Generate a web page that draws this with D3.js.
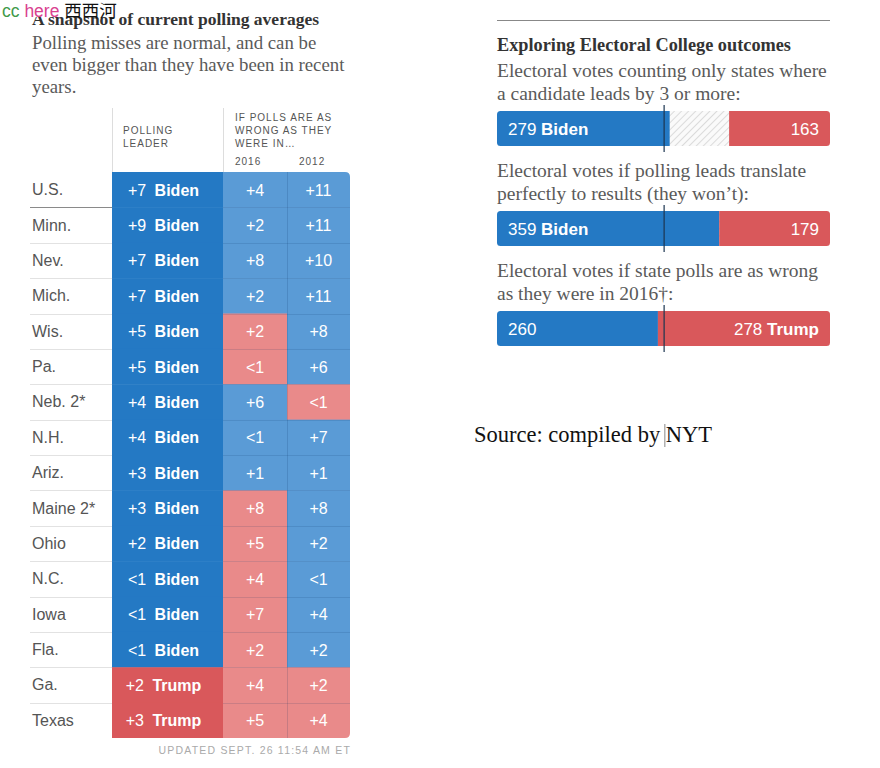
<!DOCTYPE html>
<html><head><meta charset="utf-8">
<script src="https://cdn.jsdelivr.net/npm/d3@7"></script>
<style>
html,body{margin:0;padding:0;background:#fff;}
svg{display:block;}
</style></head>
<body>
<svg id="c" width="880" height="768"></svg>
<script>
// ---------- DATA ----------
const states = ["U.S.","Minn.","Nev.","Mich.","Wis.","Pa.","Neb. 2*","N.H.","Ariz.","Maine 2*","Ohio","N.C.","Iowa","Fla.","Ga.","Texas"];
const leaderMargin = ["+7","+9","+7","+7","+5","+5","+4","+4","+3","+3","+2","<1","<1","<1","+2","+3"];
const leaderParty  = ["Biden","Biden","Biden","Biden","Biden","Biden","Biden","Biden","Biden","Biden","Biden","Biden","Biden","Biden","Trump","Trump"];
const miss2016     = ["+4","+2","+8","+2","+2","<1","+6","<1","+1","+8","+5","+4","+7","+2","+4","+5"];
const miss2016Party= ["D","D","D","D","R","R","D","D","D","R","R","R","R","R","R","R"];
const miss2012     = ["+11","+11","+10","+11","+8","+6","<1","+7","+1","+8","+2","<1","+4","+2","+2","+4"];
const miss2012Party= ["D","D","D","D","D","D","R","D","D","D","D","D","D","D","R","R"];
const headerLeader = ["POLLING","LEADER"];
const headerMiss   = ["IF POLLS ARE AS","WRONG AS THEY","WERE IN…"];
const missYears    = ["2016","2012"];

const totalEV = 538;
const scenarioText = [
  ["Electoral votes counting only states where","a candidate leads by 3 or more:"],
  ["Electoral votes if polling leads translate","perfectly to results (they won’t):"],
  ["Electoral votes if state polls are as wrong","as they were in 2016†:"]
];
const scenarioBiden = [279, 359, 260];
const scenarioTrump = [163, 179, 278];
const scenarioWinner = ["Biden","Biden","Trump"];

// ---------- STYLE ----------
const C = {
  bidenDark:"#2479c4", trumpDark:"#d9585b",
  bidenLight:"#5a9bd6", trumpLight:"#e98a8a",
  serifGray:"#5a5a5a", title:"#333"
};
const serif = "'Liberation Serif','Times New Roman',serif";
const sans = "'Liberation Sans',Arial,sans-serif";

const svg = d3.select("#c");
const defs = svg.append("defs");

// ---------- LEFT: TABLE ----------
svg.append("text").attr("x",32).attr("y",25).attr("font-family",serif).attr("font-weight","bold")
  .attr("font-size",17.5).attr("fill",C.title).text("A snapshot of current polling averages");
const sub = ["Polling misses are normal, and can be","even bigger than they have been in recent","years."];
svg.append("g").selectAll("text").data(sub).join("text")
  .attr("x",32).attr("y",(d,i)=>49+i*22.2).attr("font-family",serif).attr("font-size",18.8)
  .attr("fill",C.serifGray).text(d=>d);

const y = d3.scaleBand().domain(states).range([172, 738]);
const colEdges = d3.scaleOrdinal().domain(["label","leader","y2016","y2012","end"]).range([32,112,223,287,350]);
const x0 = colEdges("leader"), x1 = colEdges("y2016"), x2 = colEdges("y2012"), x3 = colEdges("end");

// header
const hdr = svg.append("g").attr("font-family",sans).attr("font-size",10).attr("letter-spacing",1).attr("fill","#555");
hdr.append("line").attr("x1",x0+0.5).attr("x2",x0+0.5).attr("y1",108).attr("y2",172).attr("stroke","#ddd");
hdr.append("line").attr("x1",x1+0.5).attr("x2",x1+0.5).attr("y1",108).attr("y2",172).attr("stroke","#ddd");
hdr.selectAll(".hl").data(headerLeader).join("text").attr("x",x0+11).attr("y",(d,i)=>134+i*13).text(d=>d);
hdr.selectAll(".hm").data(headerMiss).join("text").attr("x",x1+12).attr("y",(d,i)=>121+i*13).text(d=>d);
hdr.selectAll(".hy").data(missYears).join("text").attr("x",(d,i)=>[x1,x2][i]+12).attr("y",165).text(d=>d);

// state label separators
const rows = states.map((s,i)=>({s,i}));
svg.append("g").selectAll("line").data(rows.slice(0,-1)).join("line")
  .attr("x1",30).attr("x2",x0).attr("y1",d=>Math.round(y(d.s)+y.bandwidth())+0.5).attr("y2",d=>Math.round(y(d.s)+y.bandwidth())+0.5)
  .attr("stroke",d=>d.i===0?"#8a8a8a":"#e2e2e2");
svg.append("g").selectAll("text").data(rows).join("text")
  .attr("x",32).attr("y",d=>y(d.s)+y.bandwidth()/2+5.5).attr("font-family",sans).attr("font-size",16)
  .attr("fill","#555").text(d=>d.s);

// clip for rounded right corners
defs.append("clipPath").attr("id","tclip").append("path")
  .attr("d",(()=>{const r=5,t=y.range()[0],b=y.range()[1];
    return `M${x0},${t}H${x3-r}Q${x3},${t} ${x3},${t+r}V${b-r}Q${x3},${b} ${x3-r},${b}H${x0}Z`;})());
const cells = svg.append("g").attr("clip-path","url(#tclip)");
// leader column
cells.selectAll(".lead").data(rows).join("rect")
  .attr("x",x0).attr("width",x1-x0).attr("y",d=>y(d.s)).attr("height",y.bandwidth()+0.5)
  .attr("fill",d=>leaderParty[d.i]==="Biden"?C.bidenDark:C.trumpDark);
// miss columns
const missCols=[{x:x1,w:x2-x1,v:miss2016,p:miss2016Party},{x:x2,w:x3-x2,v:miss2012,p:miss2012Party}];
missCols.forEach(col=>{
  cells.append("g").selectAll("rect").data(rows).join("rect")
    .attr("x",col.x).attr("width",col.w).attr("y",d=>y(d.s)).attr("height",y.bandwidth()+0.5)
    .attr("fill",d=>col.p[d.i]==="D"?C.bidenLight:C.trumpLight);
  cells.append("g").selectAll("line").data(rows.slice(1)).join("line")
    .attr("x1",col.x).attr("x2",col.x+col.w).attr("y1",d=>Math.round(y(d.s))+0.5).attr("y2",d=>Math.round(y(d.s))+0.5)
    .attr("stroke","rgba(0,40,90,0.13)");
  cells.append("g").selectAll("text").data(rows).join("text")
    .attr("x",col.x+col.w/2).attr("y",d=>y(d.s)+y.bandwidth()/2+6).attr("text-anchor","middle")
    .attr("font-family",sans).attr("font-size",16).attr("fill","#fff").text(d=>col.v[d.i]);
});
cells.append("line").attr("x1",x2+0.5).attr("x2",x2+0.5).attr("y1",y.range()[0]).attr("y2",y.range()[1]).attr("stroke","rgba(0,40,90,0.15)");
// leader text
const lt = cells.append("g").selectAll("text").data(rows).join("text")
  .attr("x",(x0+x1)/2-4).attr("y",d=>y(d.s)+y.bandwidth()/2+6).attr("text-anchor","middle")
  .attr("font-family",sans).attr("font-size",16).attr("fill","#fff");
lt.append("tspan").text(d=>leaderMargin[d.i]+" ");
lt.append("tspan").attr("dx",4).attr("font-weight","bold").text(d=>leaderParty[d.i]);

svg.append("text").attr("x",351).attr("y",754).attr("text-anchor","end").attr("font-family",sans)
  .attr("font-size",10.5).attr("letter-spacing",1.2).attr("fill","#aaa").text("UPDATED SEPT. 26 11:54 AM ET");

// ---------- RIGHT: ELECTORAL BARS ----------
const ev = d3.scaleLinear().domain([0,totalEV]).range([497,830]);
svg.append("line").attr("x1",497).attr("x2",830).attr("y1",20.5).attr("y2",20.5).attr("stroke","#888");
svg.append("text").attr("x",497).attr("y",51).attr("font-family",serif).attr("font-weight","bold")
  .attr("font-size",18.3).attr("fill",C.title).text("Exploring Electoral College outcomes");

const pat = defs.append("pattern").attr("id","hatch").attr("patternUnits","userSpaceOnUse")
  .attr("width",5).attr("height",5).attr("patternTransform","rotate(45)");
pat.append("rect").attr("width",5).attr("height",5).attr("fill","#fafafa");
pat.append("line").attr("x1",0).attr("x2",0).attr("y1",0).attr("y2",5).attr("stroke","#d4d4d4").attr("stroke-width",1.6);

const textTop = [77, 177, 277];
const barTop = [111, 211, 311];
const barH = 35;
scenarioText.forEach((lines,k)=>{
  svg.append("g").selectAll("text").data(lines).join("text")
    .attr("x",497).attr("y",(d,i)=>textTop[k]+i*23.3).attr("font-family",serif).attr("font-size",19.5)
    .attr("fill",C.serifGray).text(d=>d);
  const id="bclip"+k;
  defs.append("clipPath").attr("id",id).append("rect")
    .attr("x",ev(0)).attr("y",barTop[k]).attr("width",ev(totalEV)-ev(0)).attr("height",barH).attr("rx",3.5);
  const g = svg.append("g").attr("clip-path",`url(#${id})`);
  g.append("rect").attr("x",ev(0)).attr("y",barTop[k]).attr("width",ev(totalEV)-ev(0)).attr("height",barH).attr("fill","url(#hatch)");
  g.append("rect").attr("x",ev(0)).attr("y",barTop[k]).attr("width",ev(scenarioBiden[k])-ev(0)).attr("height",barH).attr("fill",C.bidenDark);
  g.append("rect").attr("x",ev(totalEV-scenarioTrump[k])).attr("y",barTop[k]).attr("width",ev(totalEV)-ev(totalEV-scenarioTrump[k])).attr("height",barH).attr("fill",C.trumpDark);
  const bt = svg.append("text").attr("x",ev(0)+11).attr("y",barTop[k]+barH/2+6).attr("font-family",sans).attr("font-size",17).attr("fill","#fff");
  bt.append("tspan").text(scenarioBiden[k]+" ");
  if(scenarioWinner[k]==="Biden") bt.append("tspan").attr("font-weight","bold").text("Biden");
  const tt = svg.append("text").attr("x",ev(totalEV)-11).attr("y",barTop[k]+barH/2+6).attr("text-anchor","end").attr("font-family",sans).attr("font-size",17).attr("fill","#fff");
  tt.append("tspan").text(scenarioTrump[k]+(scenarioWinner[k]==="Trump"?" ":""));
  if(scenarioWinner[k]==="Trump") tt.append("tspan").attr("font-weight","bold").text("Trump");
  svg.append("line").attr("x1",ev(270)).attr("x2",ev(270)).attr("y1",barTop[k]-6).attr("y2",barTop[k]+barH+6)
    .attr("stroke","#1c3550").attr("stroke-width",1.2);
});

const src = svg.append("text").attr("x",474).attr("y",442).attr("font-family",serif).attr("font-size",22.5)
  .attr("fill","#111");
const srcA = src.append("tspan").text("Source: compiled by ");
src.append("tspan").text("NYT");
const caretX = 474 + srcA.node().getComputedTextLength() - 1;
svg.append("line").attr("x1",caretX).attr("x2",caretX).attr("y1",424).attr("y2",447).attr("stroke","#888").attr("stroke-width",1);

// ---------- WATERMARK ----------
svg.append("rect").attr("x",0).attr("y",0).attr("width",119).attr("height",17).attr("fill","#fff");
const wm = svg.append("text").attr("x",2).attr("y",17).attr("font-size",17.5);
wm.append("tspan").attr("font-family",sans).attr("fill","#3f9a4a").text("cc ");
wm.append("tspan").attr("font-family",sans).attr("fill","#d9428f").text("here ");
wm.append("tspan").attr("font-family","'Noto Sans CJK SC',sans-serif").attr("fill","#111").text("西西河");
</script>
</body></html>
